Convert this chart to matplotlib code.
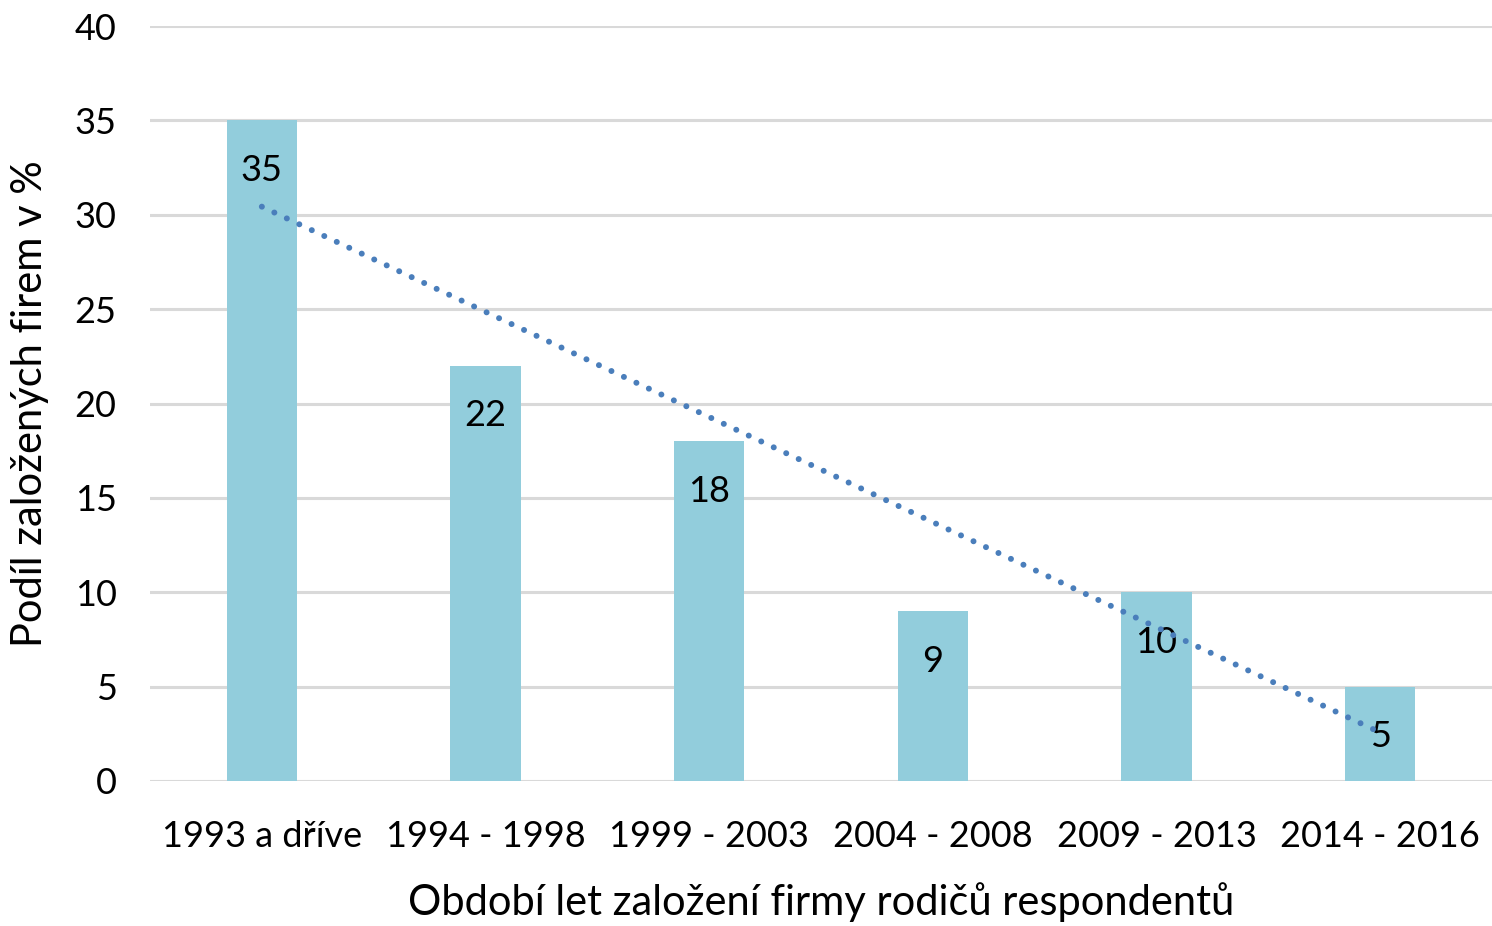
import matplotlib
matplotlib.use("Agg")
import matplotlib.pyplot as plt
import numpy as np

categories = ["1993 a dříve", "1994 - 1998", "1999 - 2003", "2004 - 2008", "2009 - 2013", "2014 - 2016"]
values = [35, 22, 18, 9, 10, 5]
yticks = [0, 5, 10, 15, 20, 25, 30, 35, 40]

plt.rcParams['font.family'] = ['Lato', 'DejaVu Sans']
FS = 26
LFS = 30

fig = plt.figure(figsize=(14.92, 9.26), dpi=100)
ax = fig.add_axes([150/1492, 1 - 781/926, 1 - 150/1492, (781 - 26)/926])

x = np.arange(len(categories))
ax.bar(x, values, width=0.315, color="#92CDDC", zorder=2)

# linear trendline
coef = np.polyfit(x, values, 1)
xt = np.array([x[0], x[-1]])
ax.plot(xt, np.polyval(coef, xt), linestyle=(0, (0.01, 2.3)), dash_capstyle='round',
        solid_capstyle='round', color="#4A7EBB", linewidth=4.3, zorder=4)

for xi, v in zip(x, values):
    ax.annotate(str(v), (xi, v), xytext=(0, -50), textcoords="offset pixels",
                ha="center", va="center", fontsize=FS, color="black", zorder=3)

ax.set_xlim(-0.5, len(categories) - 0.5)
ax.set_ylim(0, 40)
ax.set_yticks(yticks)
ax.set_xticks(x)
ax.set_xticklabels(categories)
ax.tick_params(axis='both', length=0, labelsize=FS)
ax.tick_params(axis='x', pad=28)
ax.tick_params(axis='y', pad=24)
ax.yaxis.grid(True, color="#D9D9D9", linewidth=2.2, zorder=0)
ax.set_axisbelow(True)
for s in ax.spines.values():
    s.set_visible(False)

ax.set_xlabel("Období let založení firmy rodičů respondentů", fontsize=LFS)
ax.set_ylabel("Podíl založených firem v %", fontsize=LFS)
ax.xaxis.set_label_coords(0.5, (781 - 902) / 755)
ax.xaxis.label.set_va('center')
ax.yaxis.set_label_coords((30 - 150) / 1342, (781 - 404) / 755)
ax.yaxis.label.set_va('center')

fig.savefig("out.png", dpi=100)
